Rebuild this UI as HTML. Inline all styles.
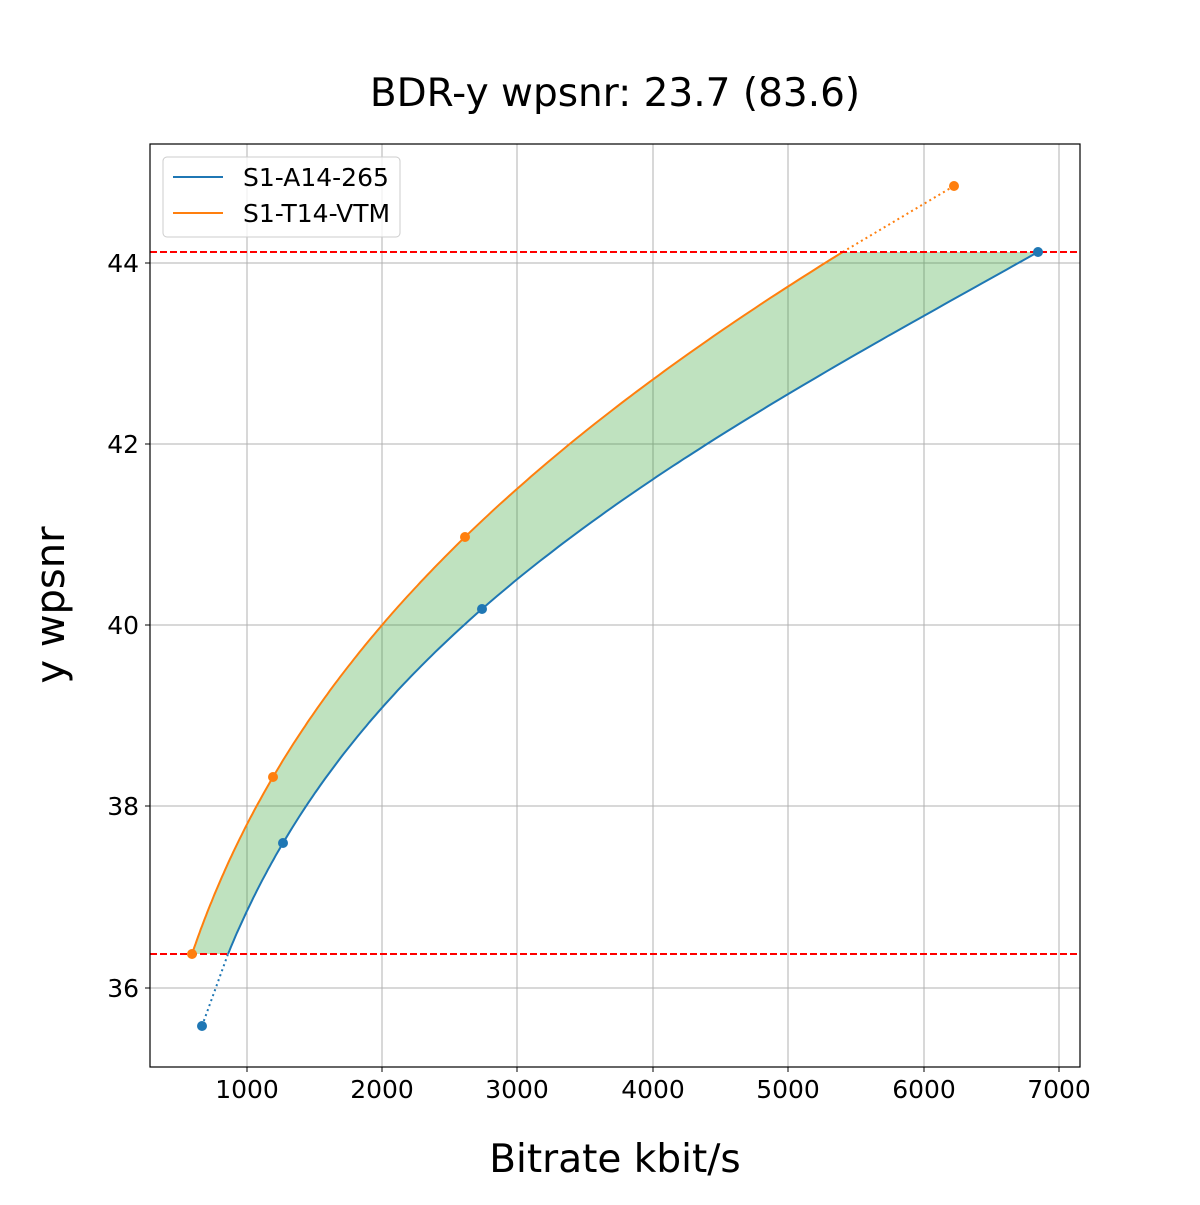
<!DOCTYPE html>
<html><head><meta charset="utf-8"><style>
html,body{margin:0;padding:0;background:#fff}
svg text{font-family:"DejaVu Sans","Liberation Sans",sans-serif;fill:#000}
</style></head><body>
<svg id="s" width="1200" height="1200" xmlns="http://www.w3.org/2000/svg">
<rect width="1200" height="1200" fill="#fff"/>
<g stroke="#b0b0b0" stroke-width="1">
<line x1="247" y1="144" x2="247" y2="1067"/><line x1="382" y1="144" x2="382" y2="1067"/>
<line x1="517" y1="144" x2="517" y2="1067"/><line x1="653" y1="144" x2="653" y2="1067"/>
<line x1="788" y1="144" x2="788" y2="1067"/><line x1="924" y1="144" x2="924" y2="1067"/>
<line x1="1059" y1="144" x2="1059" y2="1067"/>
<line x1="150" y1="263" x2="1080" y2="263"/><line x1="150" y1="444" x2="1080" y2="444"/>
<line x1="150" y1="625" x2="1080" y2="625"/><line x1="150" y1="806" x2="1080" y2="806"/>
<line x1="150" y1="988" x2="1080" y2="988"/>
</g>
<path id="fill" fill="#2ca02c" fill-opacity="0.3" stroke="none"/>
<path id="bl" fill="none" stroke="#1f77b4" stroke-width="2"/>
<path id="or" fill="none" stroke="#ff7f0e" stroke-width="2"/>
<line id="bd" x1="202" y1="1026" x2="226" y2="954" stroke="#1f77b4" stroke-width="2" stroke-dasharray="2,3.3"/>
<line id="od" x1="843" y1="252" x2="954" y2="186" stroke="#ff7f0e" stroke-width="2" stroke-dasharray="2,3.3"/>
<line x1="150" y1="252" x2="1080" y2="252" stroke="#f00" stroke-width="2" stroke-dasharray="7,3"/>
<line x1="150" y1="954" x2="1080" y2="954" stroke="#f00" stroke-width="2" stroke-dasharray="7,3"/>
<g fill="#1f77b4"><circle cx="202" cy="1026" r="5"/><circle cx="283" cy="843" r="5"/><circle cx="482" cy="609" r="5"/><circle cx="1038" cy="252" r="5"/></g>
<g fill="#ff7f0e"><circle cx="192" cy="954" r="5"/><circle cx="273" cy="777" r="5"/><circle cx="465" cy="537" r="5"/><circle cx="954" cy="186" r="5"/></g>
<rect x="150" y="144" width="930" height="923" fill="none" stroke="#000" stroke-width="1.2"/>
<g stroke="#000"><line x1="247" y1="1067" x2="247" y2="1072"/><line x1="382" y1="1067" x2="382" y2="1072"/><line x1="517" y1="1067" x2="517" y2="1072"/><line x1="653" y1="1067" x2="653" y2="1072"/><line x1="788" y1="1067" x2="788" y2="1072"/><line x1="924" y1="1067" x2="924" y2="1072"/><line x1="1059" y1="1067" x2="1059" y2="1072"/>
<line x1="145" y1="263" x2="150" y2="263"/><line x1="145" y1="444" x2="150" y2="444"/><line x1="145" y1="625" x2="150" y2="625"/><line x1="145" y1="806" x2="150" y2="806"/><line x1="145" y1="988" x2="150" y2="988"/></g>
<g font-size="25" text-anchor="middle">
<text x="247" y="1098">1000</text><text x="382" y="1098">2000</text><text x="517" y="1098">3000</text><text x="653" y="1098">4000</text><text x="788" y="1098">5000</text><text x="924" y="1098">6000</text><text x="1059" y="1098">7000</text>
</g>
<g font-size="25" text-anchor="end">
<text x="139" y="272">44</text><text x="139" y="453">42</text><text x="139" y="634">40</text><text x="139" y="815">38</text><text x="139" y="997">36</text>
</g>
<text x="615" y="106" font-size="39" text-anchor="middle">BDR-y wpsnr: 23.7 (83.6)</text>
<text x="615" y="1172" font-size="39" text-anchor="middle">Bitrate kbit/s</text>
<text transform="translate(64,605) rotate(-90)" font-size="40" text-anchor="middle">y wpsnr</text>
<rect x="163" y="157" width="237" height="80" rx="4" fill="#fff" fill-opacity="0.8" stroke="#ccc"/>
<line x1="173" y1="177" x2="223" y2="177" stroke="#1f77b4" stroke-width="2"/>
<line x1="173" y1="213" x2="223" y2="213" stroke="#ff7f0e" stroke-width="2"/>
<text x="243" y="186" font-size="25">S1-A14-265</text>
<text x="243" y="222" font-size="25">S1-T14-VTM</text>
</svg>
<script>
function px(v){return 247+(v-1000)*0.1355;}
function py(q){return 625-(q-40)*90.6;}
function lag(P,q){let s=0;for(let i=0;i<P.length;i++){let t=P[i][1];for(let j=0;j<P.length;j++)if(j!=i)t*=(q-P[j][0])/(P[i][0]-P[j][0]);s+=t;}return s;}
function mk(pts){ // pts: [xpx,ypx]
  return pts.map(p=>[40-(p[1]-625)/90.6, Math.log(1000+(p[0]-247)/0.1355)]);}
const B=mk([[202,1026],[283,843],[482,609],[1038,252]]);
const O=mk([[192,954],[273,777],[465,537],[954,186]]);
const q0=40-(954-625)/90.6, q1=40-(252-625)/90.6;
function curve(P,a,b){const r=[];for(let i=0;i<=200;i++){const q=a+(b-a)*i/200;r.push([px(Math.exp(lag(P,q))),py(q)]);}return r;}
const cb=curve(B,q0,B[3][0]), co=curve(O,O[0][0],q1);
const d=a=>"M"+a.map(p=>p[0].toFixed(1)+","+p[1].toFixed(1)).join(" L");
document.getElementById("bl").setAttribute("d",d(curve(B,q0,B[3][0])));
document.getElementById("or").setAttribute("d",d(co));
const cbf=curve(B,q0,q1);
document.getElementById("fill").setAttribute("d",d(co.concat(cbf.slice().reverse()))+" Z");
const bd=document.getElementById("bd");bd.setAttribute("x2",cb[0][0]);
const od=document.getElementById("od");od.setAttribute("x1",co[co.length-1][0]);
</script>
</body></html>
